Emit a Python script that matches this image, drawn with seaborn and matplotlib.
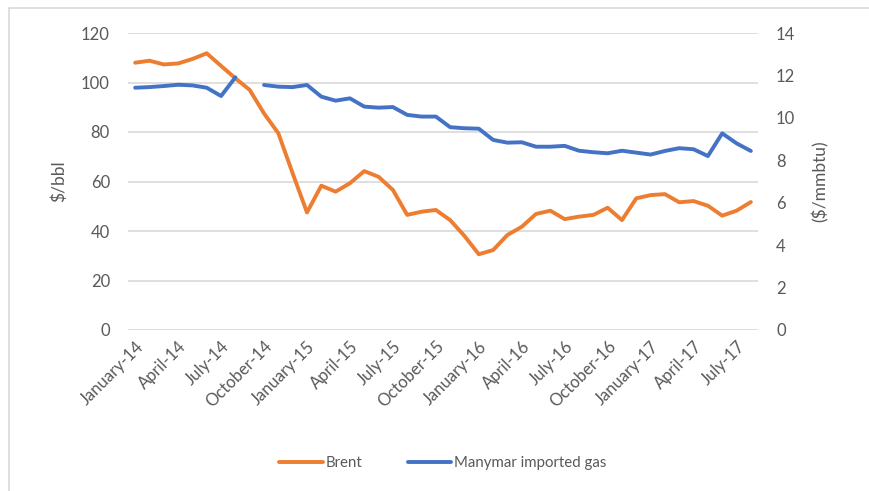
import numpy as np
import pandas as pd
import matplotlib
matplotlib.use("Agg")
import matplotlib.pyplot as plt
import seaborn as sns
from matplotlib.lines import Line2D
from matplotlib.patches import Rectangle

months = pd.date_range("2014-01-01", "2017-08-01", freq="MS")
month_labels = [d.strftime("%B-%y") for d in months]

brent = [108.0, 108.8, 107.3, 107.7, 109.5, 111.8, 106.7, 101.7, 97.0, 87.5,
         79.5, 63.3, 47.5, 58.3, 55.9, 59.3, 64.2, 61.9, 56.6, 46.5,
         47.8, 48.5, 44.4, 38.0, 30.6, 32.3, 38.4, 41.7, 46.9, 48.2,
         44.8, 45.8, 46.5, 49.4, 44.4, 53.2, 54.5, 54.9, 51.6, 52.1,
         50.2, 46.2, 48.2, 51.7]

gas = [11.42, 11.45, 11.50, 11.56, 11.53, 11.42, 11.03, 11.91, np.nan, 11.55,
       11.47, 11.45, 11.55, 11.00, 10.81, 10.92, 10.53, 10.48, 10.51, 10.14,
       10.06, 10.06, 9.56, 9.51, 9.49, 8.96, 8.83, 8.85, 8.64, 8.64,
       8.68, 8.45, 8.38, 8.33, 8.45, 8.36, 8.27, 8.44, 8.57, 8.52,
       8.20, 9.27, 8.80, 8.44]

left_ticks = [0, 20, 40, 60, 80, 100, 120]
right_ticks = [0, 2, 4, 6, 8, 10, 12, 14]

ORANGE = "#ED7D31"
BLUE = "#4472C4"
TXT = "#595959"
GRID = "#D9D9D9"

sns.set_theme(style="white")
plt.rcParams["font.family"] = ["Lato", "DejaVu Sans"]

idx = np.arange(len(months))
seg = np.cumsum(np.isnan(np.array(gas, dtype=float)))
df = pd.DataFrame({"i": idx, "brent": brent, "gas": gas, "seg": seg})
df_gas = df.dropna(subset=["gas"])

fig = plt.figure(figsize=(8.69, 4.91), dpi=100)
ax = fig.add_axes([128/869, 1 - 330/491, 630/869, 297/491])
ax2 = ax.twinx()

sns.lineplot(data=df, x="i", y="brent", ax=ax, color=ORANGE, linewidth=2.8,
             solid_capstyle="round", solid_joinstyle="round", legend=False)
sns.lineplot(data=df_gas, x="i", y="gas", units="seg", estimator=None, ax=ax2,
             color=BLUE, linewidth=2.8, solid_capstyle="round",
             solid_joinstyle="round", legend=False)

ax.set_xlim(-0.5, len(months) - 0.5)
ax.set_ylim(0, 120)
ax2.set_ylim(0, 14)
ax.set_yticks(left_ticks)
ax2.set_yticks(right_ticks)
ax.yaxis.grid(True, color=GRID, linewidth=1.2)
ax.set_axisbelow(True)
for a in (ax, ax2):
    for s in a.spines.values():
        s.set_visible(False)
    a.tick_params(length=0, colors=TXT, labelsize=12)

tick_pos = idx[::3]
ax.set_xticks(tick_pos)
ax.set_xticklabels([month_labels[i] for i in tick_pos], rotation=45,
                   ha="right", va="top", rotation_mode="anchor")
ax.tick_params(axis="x", pad=6)
ax.tick_params(axis="y", pad=13)
ax2.tick_params(axis="y", pad=13)

ax.set_xlabel("")
ax.set_ylabel("$/bbl", color=TXT, fontsize=12.5, labelpad=10)
ax2.set_ylabel("($/mmbtu)", color=TXT, fontsize=12.5, labelpad=12)

handles = [Line2D([], [], color=ORANGE, lw=2.8, solid_capstyle="round"),
           Line2D([], [], color=BLUE, lw=2.8, solid_capstyle="round")]
fig.legend(handles, ["Brent", "Manymar imported gas"], loc="center",
           bbox_to_anchor=(443/869, 1 - 463/491), ncol=2, frameon=False,
           fontsize=10.8, labelcolor=TXT, handlelength=2.9, handletextpad=0.2,
           columnspacing=3.0)

fig.patches.append(Rectangle((9/869, -0.1), 1.2, (1 - 8/491) + 0.1,
                             transform=fig.transFigure, fill=False,
                             edgecolor=GRID, linewidth=1.2))

fig.savefig("out.png", dpi=100)
